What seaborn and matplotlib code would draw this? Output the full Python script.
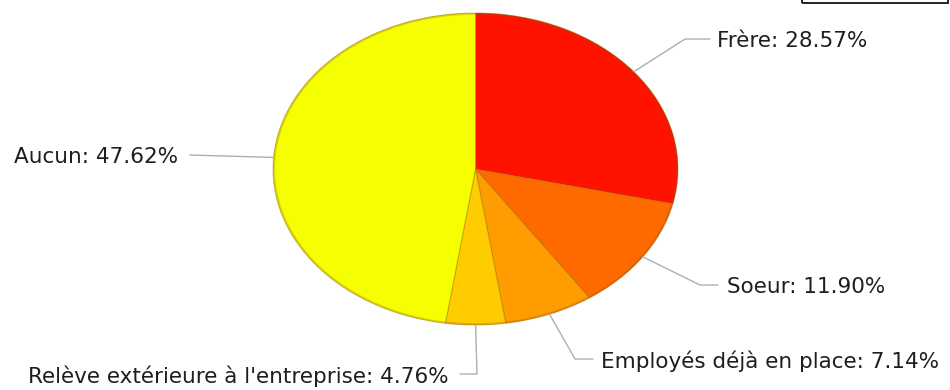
import numpy as np
import matplotlib
matplotlib.use("Agg")
import matplotlib.pyplot as plt
from matplotlib.lines import Line2D
from matplotlib.patches import Rectangle
import seaborn as sns

sns.set_theme(style="white")
plt.rcParams['font.family'] = ['DejaVu Sans']

# Répartition des repreneurs envisagés
categories = ["Frère", "Soeur", "Employés déjà en place",
              "Relève extérieure à l'entreprise", "Aucun"]
shares = [28.57, 11.90, 7.14, 4.76, 47.62]
slice_colors = ["#ff1200", "#ff6a00", "#ff9c00", "#ffcc00", "#f6ff00"]

# leader-line layout in pixels from the top-left corner:
# elbow point, end of the horizontal stub, and text anchor x
label_layout = {
    "Frère": ((685, 39), 710, 717, "left"),
    "Soeur": ((700, 285), 718, 727, "left"),
    "Employés déjà en place": ((575, 359), 593, 601, "left"),
    "Relève extérieure à l'entreprise": ((477, 374), 460, 449, "right"),
    "Aucun": ((190, 155), 190, 178, "right"),
}

W, H = 950, 390
fig = plt.figure(figsize=(W / 100, H / 100), dpi=100)
fig.patch.set_facecolor("white")

# elliptical pie: axes spans the ellipse box, aspect left free
left, right, top, bottom = 273, 678, 13, 325
ax = fig.add_axes([left / W, 1 - bottom / H, (right - left) / W, (bottom - top) / H])
wedges, _ = ax.pie(shares, colors=slice_colors, startangle=90, counterclock=False,
                   radius=1.0,
                   wedgeprops=dict(linewidth=0.8, edgecolor=(0.55, 0.35, 0.0, 0.35)))
ax.set_aspect("auto")
ax.set_xlim(-1, 1)
ax.set_ylim(-1, 1)
ax.axis("off")

# soft darker rim around the ellipse
theta = np.linspace(0, 2 * np.pi, 400)
ax.plot(np.cos(theta) * 0.995, np.sin(theta) * 0.995, color=(0.55, 0.35, 0.0, 0.25), lw=1.5)

fig.canvas.draw()
to_px = ax.transData


def fig_px(x, y):
    return x / W, 1 - y / H


line_color = "#a9b0b8"
cum = 0.0
for name, share in zip(categories, shares):
    mid = np.deg2rad(90 - (cum + share / 2) * 3.6)
    cum += share
    px, py = to_px.transform((np.cos(mid), np.sin(mid)))
    anchor = (px, H - py)
    (ex, ey), stub_x, tx, ha = label_layout[name]
    pts = [anchor, (ex, ey), (stub_x, ey)]
    xs, ys = zip(*[fig_px(x, y) for x, y in pts])
    fig.add_artist(Line2D(xs, ys, color=line_color, lw=1.0, transform=fig.transFigure))
    fx, fy = fig_px(tx, ey + 2)
    fig.text(fx, fy, f"{name}: {share:.2f}%", ha=ha, va="center",
             fontsize=15.5, color="#1e1e1e")

# framed box at the top-right edge
x0, y0 = fig_px(802, 3)
fig.add_artist(Rectangle((x0, y0), (948 - 802) / W, 10 / H, transform=fig.transFigure,
                         fill=False, edgecolor="black", lw=1.2))

fig.savefig("out.png", dpi=100, facecolor="white")
